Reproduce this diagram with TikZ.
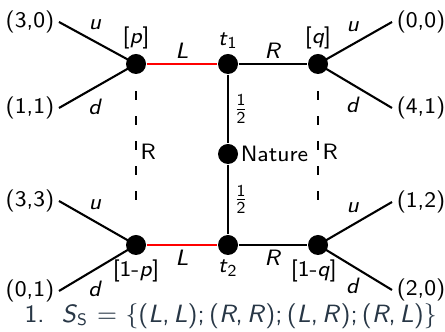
\documentclass[tikz,border=0pt]{standalone}
\usepackage{amsmath}
\usepackage{tikz}
\usetikzlibrary{positioning}
\renewcommand{\familydefault}{\sfdefault}
\definecolor{slate}{RGB}{40,55,70}
\newcommand{\mv}[1]{\textit{#1}}

\begin{document}
\begin{tikzpicture}[
  x=0.36pt,y=-0.36pt,
  font=\footnotesize,
  dot/.style={circle,fill=black,inner sep=0pt,minimum size=7.2pt},
  pay/.style={inner sep=1.5pt},
  edge/.style={draw=black,line width=0.75pt},
  redge/.style={draw=red,line width=0.6pt},
  info/.style={draw=black,line width=0.4pt,dash pattern=on 3pt off 6pt,
               shorten <=6pt,shorten >=8pt},
  lbl/.style={inner sep=1.5pt},
  mvlbl/.style={inner sep=1.5pt,pos=0.47},
]
\useasboundingbox (0,0) rectangle (445,332);

% ---- decision nodes ----
\node[dot] (p)   at (136,64)  {};
\node[dot] (t1)  at (228,64)  {};
\node[dot] (q)   at (318,64)  {};
\node[dot] (nat) at (228,154) {};
\node[dot] (p2)  at (136,245) {};
\node[dot] (t2)  at (228,245) {};
\node[dot] (q2)  at (318,245) {};

\node[lbl,above=0pt of p]  {[\mv{p}]};
\node[lbl,above=0pt of t1] {\mv{t}\textsubscript{1}};
\node[lbl,above=0pt of q]  {[\mv{q}]};
\node[lbl,below=0pt of p2] {[1-\mv{p}]};
\node[lbl,below=0pt of t2] {\mv{t}\textsubscript{2}};
\node[lbl,below=0pt of q2,xshift=-1.5pt] {[1-\mv{q}]};
\node[inner sep=0.6pt,right=0pt of nat] {Nature};

% ---- payoffs ----
\node[pay] (pay30) at (30,22)   {(3,0)};
\node[pay] (pay11) at (30,108)  {(1,1)};
\node[pay] (pay00) at (421,22)  {(0,0)};
\node[pay] (pay41) at (421,108) {(4,1)};
\node[pay] (pay33) at (30,201)  {(3,3)};
\node[pay] (pay01) at (30,291)  {(0,1)};
\node[pay] (pay12) at (421,202) {(1,2)};
\node[pay] (pay20) at (421,290) {(2,0)};

% ---- moves ----
\draw[edge] (pay30.east) -- node[mvlbl,above=2.5pt]{\mv{u}} (p.center);
\draw[edge] (pay11.east) -- node[mvlbl,below=2.5pt]{\mv{d}} (p.center);
\draw[edge] (q.center) -- node[mvlbl,above=2.5pt]{\mv{u}} (pay00.west);
\draw[edge] (q.center) -- node[mvlbl,below=2.5pt]{\mv{d}} (pay41.west);
\draw[edge] (pay33.east) -- node[mvlbl,above=2.5pt]{\mv{u}} (p2.center);
\draw[edge] (pay01.east) -- node[mvlbl,below=2.5pt]{\mv{d}} (p2.center);
\draw[edge] (q2.center) -- node[mvlbl,above=2.5pt]{\mv{u}} (pay12.west);
\draw[edge] (q2.center) -- node[mvlbl,below=2.5pt]{\mv{d}} (pay20.west);

\draw[redge] (p) -- node[lbl,above]{\mv{L}} (t1);
\draw[edge]  (t1) -- node[lbl,above]{\mv{R}} (q);
\draw[redge] (p2) -- node[lbl,below]{\mv{L}} (t2);
\draw[edge]  (t2) -- node[lbl,below]{\mv{R}} (q2);

\draw[edge] (t1) -- node[lbl,right]{$\frac{\mathsf{1}}{\mathsf{2}}$} (nat);
\draw[edge] (nat) -- node[lbl,right]{$\frac{\mathsf{1}}{\mathsf{2}}$} (t2);

% ---- information sets ----
\draw[info] (p) -- node[lbl,right,pos=0.48]{R} (p2);
\draw[info] (q) -- node[lbl,right,pos=0.48]{R} (q2);

% ---- strategy set ----
\node[anchor=west,text=slate,inner sep=0pt,font=\small] (strat) at (24,316)
  {1.\ \ \mv{S}\textsubscript{S} $=$ $\{$(\mv{L},\,\mv{L});\,(\mv{R},\,\mv{R});\,(\mv{L},\,\mv{R});\,(\mv{R},\,\mv{L})$\}$};
\end{tikzpicture}
\end{document}
